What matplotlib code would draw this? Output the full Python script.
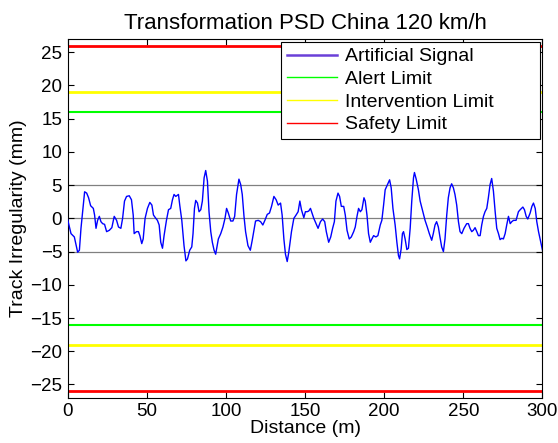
import numpy as np
import matplotlib
matplotlib.use("Agg")
import matplotlib.pyplot as plt

plt.rcParams['font.family'] = ['Liberation Sans', 'DejaVu Sans']

# track irregularity (distance m, value mm)
distance = [0.0, 2.1, 4.2, 6.3, 7.4, 8.4, 9.9, 10.7, 12.0, 13.2, 14.5, 16.2, 17.0, 17.9,
            18.9, 20.0, 21.0, 22.1, 23.3, 24.6, 26.3, 27.9, 29.4, 30.9, 32.1, 33.6, 34.7,
            35.9, 37.2, 38.9, 40.3, 41.4, 42.0, 43.5, 44.7, 45.6, 46.8, 47.7, 48.9, 50.4,
            51.9, 53.2, 54.2, 55.7, 56.7, 57.8, 58.8, 59.9, 60.9, 62.4, 63.7, 65.1, 66.2,
            67.2, 68.3, 70.0, 70.8, 72.1, 73.5, 74.7, 75.7, 77.1, 78.4, 79.2, 80.1, 80.9,
            82.0, 83.0, 84.1, 85.1, 86.2, 87.2, 88.3, 89.3, 90.4, 91.4, 92.5, 93.5, 95.2,
            96.7, 98.1, 99.4, 100.4, 101.5, 103.0, 104.4, 105.5, 106.7, 108.2, 109.3,
            110.3, 111.4, 112.4, 113.9, 115.4, 116.6, 117.7, 118.7, 120.4, 121.9, 123.3,
            124.6, 126.1, 127.5, 128.8, 130.3, 131.7, 133.0, 134.5, 135.5, 136.6, 137.6,
            138.7, 139.7, 141.4, 142.9, 144.3, 145.6, 146.7, 147.7, 149.2, 150.2, 151.3,
            152.3, 153.4, 154.4, 155.5, 156.9, 158.2, 159.7, 161.1, 162.4, 163.4, 164.9,
            166.2, 167.4, 168.5, 169.5, 170.8, 171.8, 172.9, 174.4, 175.4, 176.5, 177.9,
            179.2, 180.7, 181.7, 182.8, 183.8, 184.9, 185.9, 187.2, 188.0, 189.1, 190.1,
            191.2, 192.2, 193.3, 194.7, 196.0, 197.5, 198.5, 199.6, 200.6, 202.1, 203.4,
            204.4, 205.5, 206.9, 208.0, 209.0, 209.7, 210.7, 211.5, 212.2, 213.2, 214.3,
            215.3, 216.4, 217.4, 218.5, 219.1, 220.2, 221.6, 222.7, 225.8, 227.2, 228.5,
            230.0, 231.0, 232.1, 233.1, 234.2, 235.2, 236.3, 237.4, 238.4, 239.5, 240.5,
            241.6, 242.6, 243.7, 244.7, 245.8, 246.9, 247.9, 249.0, 250.4, 252.1, 253.2,
            254.2, 255.3, 256.3, 257.4, 258.5, 259.5, 260.6, 261.6, 262.7, 263.7, 264.8,
            265.8, 266.9, 267.9, 269.0, 270.1, 271.1, 272.2, 273.2, 274.3, 275.3, 276.4,
            277.4, 278.5, 279.6, 280.6, 281.7, 283.3, 284.8, 285.9, 287.6, 288.6, 289.7,
            290.7, 292.2, 293.3, 294.3, 295.4, 296.4, 297.5, 298.5, 299.6, 300.0]
signal = [-0.2, -2.3, -2.8, -5.1, -4.8, -1.5, 2.0, 4.0, 3.8, 3.1, 1.9, 1.5, 0.5, -1.5,
          -0.3, 0.3, -0.5, -0.8, -0.9, -2.0, -1.8, -1.4, 0.3, -0.3, -1.3, -1.5, 0.0,
          2.6, 3.3, 3.4, 2.8, 0.5, -2.3, -2.0, -2.0, -2.6, -3.8, -3.1, 0.0, 1.5,
          2.4, 2.0, 0.5, 0.0, -0.3, -1.0, -3.6, -4.5, -2.6, -0.3, 1.3, 1.5, 2.8,
          3.6, 3.3, 3.6, 2.0, -0.3, -4.1, -6.4, -6.1, -4.8, -4.3, -2.3, 1.5, 2.7,
          2.3, 1.0, 1.3, 2.6, 6.1, 7.2, 5.6, 1.0, -2.0, -3.6, -4.8, -5.4, -3.1,
          -2.3, -1.3, 0.0, 1.5, 0.8, -0.4, -0.4, 0.3, 3.6, 5.9, 5.1,
          3.6, 0.3, -2.0, -4.1, -4.8, -3.3, -1.8, -0.4, -0.3, -0.5, -1.0,
          -0.3, 0.6, 0.8, 1.8, 3.3, 2.8, 2.0, 2.3, 0.5, -3.1, -5.4,
          -6.5, -5.1, -2.0, 0.0, 0.5, 1.0, 2.6, 1.3, 0.1, 1.0, 1.0,
          1.1, 1.5, 0.8, 0.0, -0.8, -1.5, -0.5, -0.1, -0.5, -2.0, -3.6,
          -2.8, -1.5, -0.5, 2.6, 3.8, 3.3, 1.8, 1.8, 0.5, -1.8, -3.1,
          -2.8, -2.0, -1.3, 0.3, 1.5, 1.0, 1.3, 3.1, 2.6, 0.5, -2.3,
          -3.6, -3.1, -2.6, -2.8, -2.6, -1.0, -0.3, 2.0, 4.3, 5.1, 5.8,
          4.6, 1.5, -1.0, -3.6, -5.6, -6.1, -4.6, -2.3, -2.0, -3.1, -4.7,
          -4.5, -1.5, 2.6, 6.1, 6.9, 5.9, 4.3, 2.6, -0.3, -1.3, -2.3,
          -3.3, -2.3, -1.0, -0.5, -1.3, -2.8, -4.3, -5.0, -3.1, 0.5, 3.1,
          4.6, 5.2, 4.6, 3.6, 2.0, -0.5, -2.0, -2.3, -1.5, -0.8, -0.8,
          -1.5, -2.0, -1.8, -1.4, -2.0, -2.6, -2.6, -1.0, 0.3, 1.0, 1.5,
          3.1, 5.1, 6.0, 4.1, 1.0, -1.5, -2.3, -3.2, -3.0, -3.1, -2.3,
          -1.0, 0.3, -0.8, -0.5, -0.3, -0.3, 1.0, 1.3, 1.7, 1.3, 0.3,
          -0.1, 0.8, 1.8, 2.3, 1.5, -0.5, -2.0, -3.1, -4.3, -4.8]

alert_limit = 16
intervention_limit = 19
safety_limit = 26
reference_levels = [5, 0, -5]

fig = plt.figure(figsize=(5.58, 4.43), dpi=100)
ax = fig.add_axes([0.1213, 0.1022, 0.8509, 0.8098])

for lv in reference_levels:
    ax.axhline(lv, color='0.5', lw=0.9, zorder=1)

ax.plot(distance, signal, color='#0000ff', lw=1.0, label='Artificial Signal', zorder=3)
ax.axhline(alert_limit, color='#00ff00', lw=1.5, label='Alert Limit')
ax.axhline(-alert_limit, color='#00ff00', lw=1.5)
ax.axhline(intervention_limit, color='#ffff00', lw=2.0, label='Intervention Limit')
ax.axhline(-intervention_limit, color='#ffff00', lw=2.0)
ax.axhline(safety_limit, color='#ff0000', lw=2.0, label='Safety Limit')
ax.axhline(-safety_limit, color='#ff0000', lw=2.0)

ax.set_xlim(0, 300)
ax.set_ylim(-27, 27)
ax.set_xticks(np.arange(0, 301, 50))
ax.set_yticks(np.arange(-25, 26, 5))
ax.tick_params(direction='in', top=True, right=True, labelsize=13.5, length=4, width=0.8,
               pad=4)
for s in ax.spines.values():
    s.set_linewidth(0.8)

ax.set_title('Transformation PSD China 120 km/h', fontsize=16, pad=7)
ax.set_xlabel('Distance (m)', fontsize=14, labelpad=0)
ax.set_ylabel('Track Irregularity (mm)', fontsize=14, labelpad=2)

leg = ax.legend(loc='upper right', bbox_to_anchor=(0.449, 0.5, 0.5457, 0.4916),
                mode='expand', fontsize=14, handlelength=2.6, handletextpad=0.4,
                fancybox=False, framealpha=1, edgecolor='black', borderaxespad=0,
                labelspacing=0.26, borderpad=0.3)
leg.get_frame().set_linewidth(0.8)
handles = leg.get_lines()
handles[0].set_color('#6a40d8')
handles[0].set_linewidth(1.8)
for h in handles[1:]:
    h.set_linewidth(1.0)

fig.savefig('out.png', dpi=100)
